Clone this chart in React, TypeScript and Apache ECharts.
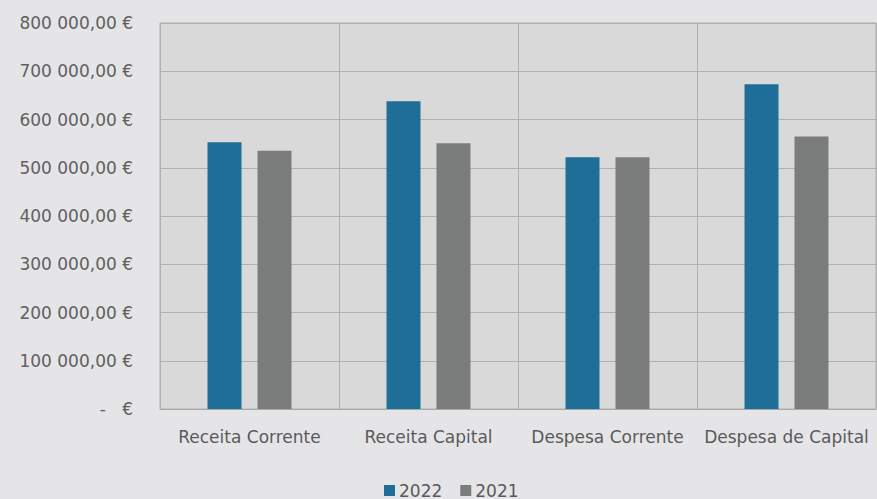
import React, { useEffect, useRef } from "react";
import * as echarts from "echarts";

const categories = ["Receita Corrente", "Receita Capital", "Despesa Corrente", "Despesa de Capital"];
const series2022 = [553000, 638000, 522000, 673000];
const series2021 = [535000, 551000, 522000, 565000];
const seriesNames = ["2022", "2021"];
const yMin = 0;
const yMax = 800000;
const yInterval = 100000;

function fmt(v: number): string {
  if (v === 0) return "-   €";
  const s = Math.round(v).toString().replace(/\B(?=(\d{3})+(?!\d))/g, " ");
  return s + ",00 €";
}

export default function App() {
  const ref = useRef<HTMLDivElement>(null);
  useEffect(() => {
    if (!ref.current) return;
    const chart = echarts.init(ref.current, null, { renderer: "svg" });
    const font = "DejaVu Sans";
    chart.setOption({
      animation: false,
      backgroundColor: "#e5e5e7",
      grid: {
        left: 160,
        right: 1,
        top: 23,
        bottom: 90,
        show: true,
        backgroundColor: "#d9d9da",
        borderColor: "#b0b0b0",
        borderWidth: 1,
      },
      legend: {
        data: seriesNames,
        left: 379,
        top: 476,
        itemWidth: 11,
        itemHeight: 11,
        itemGap: 18,
        icon: "rect",
        textStyle: { fontFamily: font, fontSize: 17, lineHeight: 19, color: "#5a5a5a", padding: [0, 0, 0, -1] },
      },
      xAxis: {
        type: "category",
        data: categories,
        axisLine: { show: true, lineStyle: { color: "#a8a8a8" } },
        axisTick: { show: false },
        splitLine: { show: true, lineStyle: { color: "#b0b0b0", width: 1 } },
        axisLabel: {
          interval: 0,
          margin: 19,
          fontFamily: font,
          fontSize: 17,
          color: "#5a5a5a",
        },
      },
      yAxis: {
        type: "value",
        min: yMin,
        max: yMax,
        interval: yInterval,
        axisLine: { show: false },
        axisTick: { show: false },
        splitLine: { show: true, lineStyle: { color: "#b0b0b0", width: 1 } },
        axisLabel: {
          margin: 27,
          fontFamily: font,
          fontSize: 17,
          color: "#606060",
          formatter: (v: number) => fmt(v),
        },
      },
      series: [
        {
          name: seriesNames[0],
          type: "bar",
          data: series2022,
          barWidth: 34,
          barGap: "47%",
          itemStyle: { color: "#1f6e98" },
        },
        {
          name: seriesNames[1],
          type: "bar",
          data: series2021,
          barWidth: 34,
          itemStyle: { color: "#7b7c7c" },
        },
      ],
    });
    return () => chart.dispose();
  }, []);
  return (
    <div
      ref={ref}
      style={{ position: "fixed", left: 0, top: 0, width: 877, height: 499 }}
    />
  );
}
